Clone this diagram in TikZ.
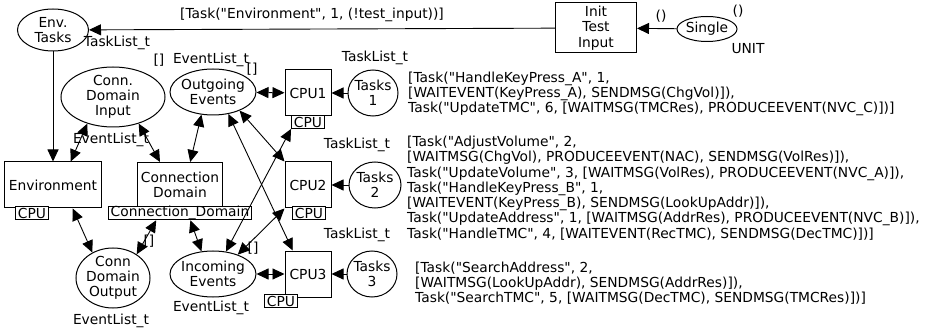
\documentclass[tikz,border=0pt]{standalone}
\usepackage{fontspec}
\newfontfamily\netfont{DejaVu Sans}
\usepackage{tikz}
\usetikzlibrary{arrows.meta,shapes.geometric}
\definecolor{ink}{HTML}{000000}
\tikzset{
  place/.style={draw=ink, ellipse, line width=1pt, inner sep=-4pt, align=center},
  trans/.style={draw=ink, rectangle, line width=1pt, inner sep=0pt, align=center},
  tag/.style={draw=ink, fill=white, line width=0.8pt, inner xsep=2.5pt, inner ysep=0pt, minimum height=13pt},
  arc/.style={draw=ink, line width=0.9pt, -{Triangle[length=12pt,width=11pt]}},
  both/.style={draw=ink, line width=0.9pt, {Triangle[length=12pt,width=11pt]}-{Triangle[length=12pt,width=11pt]}},
  lab/.style={text=ink, inner sep=0pt, align=left},
}

\begin{document}
\begin{tikzpicture}[x=1pt,y=-1pt,font=\netfont\fontsize{13.8}{15.3}\selectfont]
  \fill[white] (0,0) rectangle (937,331);
  \useasboundingbox (0,0) rectangle (937,331);
  % places
  \node[place, minimum width=71pt, minimum height=42pt] (envtasks) at (53,30) {Env.\\Tasks};
  \node[place, minimum width=60pt, minimum height=25pt] (single) at (707,29) {Single};
  \node[place, minimum width=104pt, minimum height=60pt] (cdi) at (113,97) {Conn.\\Domain\\Input};
  \node[place, minimum width=86pt, minimum height=46pt] (oe) at (213,92) {Outgoing\\Events};
  \node[place, minimum width=86pt, minimum height=46pt] (ie) at (213,274) {Incoming\\Events};
  \node[place, minimum width=74pt, minimum height=60pt] (cdo) at (113,278) {Conn\\Domain\\Output};
  \node[place, minimum width=50pt, minimum height=46pt] (tasks1) at (373,93) {Tasks\\1};
  \node[place, minimum width=52pt, minimum height=46pt] (tasks2) at (375,185) {Tasks\\2};
  \node[place, minimum width=50pt, minimum height=46pt] (tasks3) at (372,274) {Tasks\\3};
  % transitions
  \node[trans, minimum width=81pt, minimum height=50pt] (init) at (596,28) {Init\\Test\\Input};
  \node[trans, minimum width=97pt, minimum height=46pt] (environment) at (53,185) {Environment};
  \node[trans, minimum width=85pt, minimum height=45pt] (cd) at (180,185) {Connection\\Domain};
  \node[trans, minimum size=46pt] (cpu1) at (308,93) {CPU1};
  \node[trans, minimum size=46pt] (cpu2) at (308,185) {CPU2};
  \node[trans, minimum size=46pt] (cpu3) at (308,274) {CPU3};
  \node[tag] (envtag) at (32,213) {CPU};
  \node[tag] (cdtag) at (180,213) {Connection\_Domain};
  \node[tag] (cpu1tag) at (308,122) {CPU};
  \node[tag] (cpu2tag) at (309,213) {CPU};
  \node[tag] (cpu3tag) at (281,301) {CPU};
  % colour sets and markings
  \node[lab] (tEnv) at (117,43) {TaskList\_t};
  \node[lab] (mInit) at (312,15) {[Task("Environment", 1, (!test\_input))]};
  \node[lab] (mSingleArc) at (661,16) {()};
  \node[lab] (mSingle) at (738,11) {()};
  \node[lab] (tSingle) at (748,49) {UNIT};
  \node[lab] (mCdi) at (159,60) {[]};
  \node[lab] (tCdi) at (111,140) {EventList\_t};
  \node[lab] (tOe) at (211,60) {EventList\_t};
  \node[lab] (mOe) at (252,69) {[]};
  \node[lab] (tIe) at (211,308) {EventList\_t};
  \node[lab] (mIe) at (253,248) {[]};
  \node[lab] (mCdo) at (149,241) {[]};
  \node[lab] (tCdo) at (111,321) {EventList\_t};
  \node[lab] (tT1) at (375,58) {TaskList\_t};
  \node[lab] (tT2) at (357,145) {TaskList\_t};
  \node[lab] (tT3) at (357,235) {TaskList\_t};
  \node[lab, anchor=west] (mT1) at (408,94) {[Task("HandleKeyPress\_A", 1,\\{}[WAITEVENT(KeyPress\_A), SENDMSG(ChgVol)]),\\Task("UpdateTMC", 6, [WAITMSG(TMCRes), PRODUCEEVENT(NVC\_C)])]};
  \node[lab, anchor=west] (mT2) at (407,188) {[Task("AdjustVolume", 2,\\{}[WAITMSG(ChgVol), PRODUCEEVENT(NAC), SENDMSG(VolRes)]),\\Task("UpdateVolume", 3, [WAITMSG(VolRes), PRODUCEEVENT(NVC\_A)]),\\Task("HandleKeyPress\_B", 1,\\{}[WAITEVENT(KeyPress\_B), SENDMSG(LookUpAddr)]),\\Task("UpdateAddress", 1, [WAITMSG(AddrRes), PRODUCEEVENT(NVC\_B)]),\\Task("HandleTMC", 4, [WAITEVENT(RecTMC), SENDMSG(DecTMC)])]};
  \node[lab, anchor=west] (mT3) at (415,283) {[Task("SearchAddress", 2,\\{}[WAITMSG(LookUpAddr), SENDMSG(AddrRes)]),\\Task("SearchTMC", 5, [WAITMSG(DecTMC), SENDMSG(TMCRes)])]};
  % arcs
  \draw[arc] (single) -- (init);
  \draw[arc] (init) -- (envtasks);
  \draw[arc] (envtasks) -- (environment);
  \draw[both] (environment.53) -- (cdi.226);
  \draw[both] (cdi.314) -- (cd.131);
  \draw[both] (oe.243) -- (cd.66);
  \draw[both] (environment.310) -- (cdo.129);
  \draw[both] (cdtag.197) -- (cdo.45);
  \draw[both] (cdtag.325) -- (ie.117);
  \draw[both] (oe) -- (cpu1);
  \draw[both] (ie) -- (cpu3);
  \draw[arc] (tasks1) -- (cpu1);
  \draw[arc] (tasks2) -- (cpu2);
  \draw[arc] (tasks3) -- (cpu3);
  \draw[both] (cpu1tag.south west) -- (ie.60);
  \draw[both] (cpu2.south west) -- (ie.38);
  \draw[both] (oe.325) -- (cpu2.north west);
  \draw[both] (oe.305) -- (cpu3.123);
\end{tikzpicture}
\end{document}
